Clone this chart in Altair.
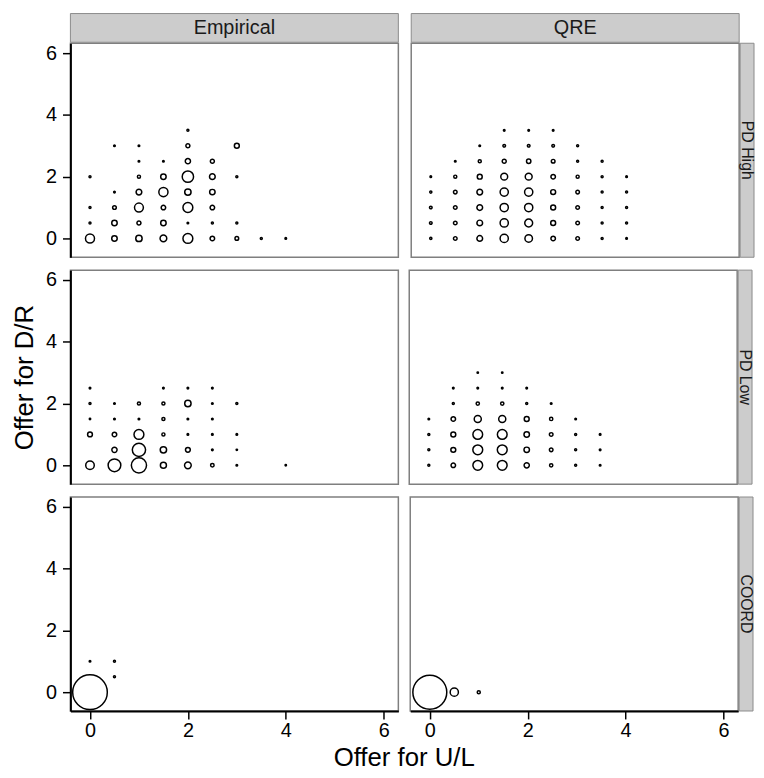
import altair as alt
import pandas as pd

# ---- data: offers (U/L, D/R) and share of choices (%) per panel ----
EMP_HIGH_X = [2, 0.5, 1, 2, 3, 1, 1.5, 2, 2.5, 0, 1, 1.5, 2, 2.5, 3, 0.5, 1, 1.5, 2, 2.5,
              0, 0.5, 1, 1.5, 2, 2.5, 0, 0.5, 1, 1.5, 2, 2.5, 3, 0, 0.5, 1, 1.5, 2, 2.5, 3, 3.5, 4]
EMP_HIGH_Y = [3.5, 3, 3, 3, 3, 2.5, 2.5, 2.5, 2.5, 2, 2, 2, 2, 2, 2, 1.5, 1.5, 1.5, 1.5, 1.5,
              1, 1, 1, 1, 1, 1, 0.5, 0.5, 0.5, 0.5, 0.5, 0.5, 0.5, 0, 0, 0, 0, 0, 0, 0, 0, 0]
EMP_HIGH_V = [0.3, 0.2, 0.2, 1.2, 1.8, 0.2, 0.2, 2.0, 1.2, 0.3, 0.7, 2.2, 9.5, 2.4, 0.3, 0.2, 2.4, 6.2, 3.0, 2.2,
              0.3, 1.0, 5.8, 1.5, 7.2, 1.5, 0.3, 2.2, 1.2, 2.2, 0.2, 0.3, 0.3, 6.0, 2.2, 3.0, 3.3, 7.2, 1.5, 1.0, 0.3, 0.2]

QRE_HIGH_X = [1.5, 2, 2.5, 1, 1.5, 2, 2.5, 3, 0.5, 1, 1.5, 2, 2.5, 3, 3.5,
              0, 0.5, 1, 1.5, 2, 2.5, 3, 3.5, 4, 0, 0.5, 1, 1.5, 2, 2.5, 3, 3.5, 4,
              0, 0.5, 1, 1.5, 2, 2.5, 3, 3.5, 4, 0, 0.5, 1, 1.5, 2, 2.5, 3, 3.5, 4,
              0, 0.5, 1, 1.5, 2, 2.5, 3, 3.5, 4]
QRE_HIGH_Y = [3.5, 3.5, 3.5, 3, 3, 3, 3, 3, 2.5, 2.5, 2.5, 2.5, 2.5, 2.5, 2.5,
              2, 2, 2, 2, 2, 2, 2, 2, 2, 1.5, 1.5, 1.5, 1.5, 1.5, 1.5, 1.5, 1.5, 1.5,
              1, 1, 1, 1, 1, 1, 1, 1, 1, 0.5, 0.5, 0.5, 0.5, 0.5, 0.5, 0.5, 0.5, 0.5,
              0, 0, 0, 0, 0, 0, 0, 0, 0]
QRE_HIGH_V = [0.2, 0.2, 0.2, 0.2, 0.5, 0.5, 0.5, 0.3, 0.2, 0.7, 1.2, 1.4, 1.0, 0.3, 0.3,
              0.2, 0.7, 1.8, 3.5, 3.5, 1.5, 0.7, 0.3, 0.2, 0.35, 0.95, 2.4, 5.0, 5.0, 1.8, 0.95, 0.3, 0.3,
              0.5, 0.95, 2.4, 5.0, 5.0, 1.8, 0.95, 0.3, 0.3, 0.5, 0.95, 2.4, 5.0, 4.6, 1.8, 0.95, 0.3, 0.3,
              0.35, 0.95, 2.4, 5.0, 4.2, 1.5, 0.95, 0.3, 0.2]

EMP_LOW_X = [0, 1.5, 2, 2.5, 0, 0.5, 1, 1.5, 2, 2.5, 3, 0, 0.5, 1, 1.5, 2, 2.5,
             0, 0.5, 1, 1.5, 2, 2.5, 3, 0.5, 1, 1.5, 2, 2.5, 3, 0, 0.5, 1, 1.5, 2, 2.5, 3, 4]
EMP_LOW_Y = [2.5, 2.5, 2.5, 2.5, 2, 2, 2, 2, 2, 2, 2, 1.5, 1.5, 1.5, 1.5, 1.5, 1.5,
             1, 1, 1, 1, 1, 1, 1, 0.5, 0.5, 0.5, 0.5, 0.5, 0.5, 0, 0, 0, 0, 0, 0, 0, 0]
EMP_LOW_V = [0.2, 0.2, 0.2, 0.2, 0.3, 0.2, 0.7, 0.7, 3.0, 0.2, 0.3, 0.15, 0.2, 0.2, 0.7, 0.2, 0.2,
             1.7, 1.5, 7.2, 0.7, 0.2, 0.2, 0.2, 2.0, 13.0, 3.0, 1.7, 0.2, 0.15, 5.4, 11.9, 17.0, 2.7, 3.3, 0.9, 0.2, 0.15]

QRE_LOW_X = [1, 1.5, 0.5, 1, 1.5, 2, 0.5, 1, 1.5, 2, 2.5, 0, 0.5, 1, 1.5, 2, 2.5, 3,
             0, 0.5, 1, 1.5, 2, 2.5, 3, 3.5, 0, 0.5, 1, 1.5, 2, 2.5, 3, 3.5,
             0, 0.5, 1, 1.5, 2, 2.5, 3, 3.5]
QRE_LOW_Y = [3, 3, 2.5, 2.5, 2.5, 2.5, 2, 2, 2, 2, 2, 1.5, 1.5, 1.5, 1.5, 1.5, 1.5, 1.5,
             1, 1, 1, 1, 1, 1, 1, 1, 0.5, 0.5, 0.5, 0.5, 0.5, 0.5, 0.5, 0.5,
             0, 0, 0, 0, 0, 0, 0, 0]
QRE_LOW_V = [0.15, 0.15, 0.2, 0.2, 0.2, 0.2, 0.3, 0.8, 0.8, 0.3, 0.2, 0.2, 1.5, 3.7, 3.7, 1.8, 0.8, 0.2,
             0.3, 1.8, 7.0, 7.0, 2.2, 0.95, 0.3, 0.2, 0.3, 1.8, 7.2, 7.2, 2.2, 0.95, 0.3, 0.2,
             0.3, 1.5, 7.0, 7.0, 2.0, 0.8, 0.3, 0.2]

EMP_COORD_X = [0, 0, 0.5, 0.5]
EMP_COORD_Y = [0, 1, 1, 0.5]
EMP_COORD_V = [88.5, 0.2, 0.3, 0.3]

QRE_COORD_X = [0, 0.5, 1]
QRE_COORD_Y = [0, 0, 0]
QRE_COORD_V = [85.0, 5.0, 0.7]

COL_LABELS = ["Empirical", "QRE"]
ROW_LABELS = ["PD High", "PD Low", "COORD"]
TICKS = [0, 2, 4, 6]

PANELS = [
    [(EMP_HIGH_X, EMP_HIGH_Y, EMP_HIGH_V), (QRE_HIGH_X, QRE_HIGH_Y, QRE_HIGH_V)],
    [(EMP_LOW_X, EMP_LOW_Y, EMP_LOW_V), (QRE_LOW_X, QRE_LOW_Y, QRE_LOW_V)],
    [(EMP_COORD_X, EMP_COORD_Y, EMP_COORD_V), (QRE_COORD_X, QRE_COORD_Y, QRE_COORD_V)],
]

W, H = 331, 216
FONT = "Liberation Sans"
STRIP_FILL = "#cccccc"
STRIP_STROKE = "#8c8c8c"


def panel(r, c):
    xs, ys, vs = PANELS[r][c]
    df = pd.DataFrame({"x": xs, "y": ys, "v": vs})
    if r == 2:
        xaxis = alt.Axis(values=TICKS, title=None, format="d", labelPadding=2)
    else:
        xaxis = None
    if c == 0:
        yaxis = alt.Axis(values=TICKS, format="d", labelPadding=6,
                         title="Offer for D/R" if r == 1 else None, titlePadding=8)
    else:
        yaxis = None
    pts = alt.Chart(df).mark_point(
        shape="circle", filled=False, color="black", strokeWidth=1.5, opacity=1
    ).encode(
        x=alt.X("x:Q", scale=alt.Scale(domain=[-0.4, 6.3], nice=False, zero=False), axis=xaxis),
        y=alt.Y("y:Q", scale=alt.Scale(domain=[-0.61, 6.32], nice=False, zero=False), axis=yaxis),
        size=alt.Size("v:Q", scale=alt.Scale(domain=[0, 100], range=[0, 1380]), legend=None),
    )
    layers = [pts]
    if r == 0:
        lab = pd.DataFrame({"label": [COL_LABELS[c]]})
        layers.append(alt.Chart(lab).mark_rect(fill=STRIP_FILL, stroke=STRIP_STROKE, strokeWidth=1).encode(
            x=alt.value(0), x2=alt.value(W), y=alt.value(-30), y2=alt.value(-1)))
        layers.append(alt.Chart(lab).mark_text(font=FONT, fontSize=20, color="#1a1a1a",
                                               baseline="middle", align="center").encode(
            x=alt.value(W / 2), y=alt.value(-15), text="label:N"))
    if c == 1:
        lab = pd.DataFrame({"label": [ROW_LABELS[r]]})
        layers.append(alt.Chart(lab).mark_rect(fill=STRIP_FILL, stroke=STRIP_STROKE, strokeWidth=1).encode(
            x=alt.value(W + 1), x2=alt.value(W + 15), y=alt.value(0), y2=alt.value(H)))
        layers.append(alt.Chart(lab).mark_text(font=FONT, fontSize=16, color="#1a1a1a", angle=90,
                                               baseline="middle", align="center").encode(
            x=alt.value(W + 8), y=alt.value(H / 2), text="label:N"))
    return alt.layer(*layers).properties(width=W, height=H)


rows = [alt.hconcat(panel(r, 0), panel(r, 1), spacing=9) for r in range(3)]

chart = alt.vconcat(*rows, spacing=9).properties(
    title=alt.TitleParams("Offer for U/L", orient="bottom", anchor="middle", fontSize=26,
                          fontWeight="normal", font=FONT, color="black", dx=21, offset=4),
    padding={"left": 3, "top": 0, "right": 0, "bottom": 0},
).configure_axis(
    labelFont=FONT, labelFontSize=20, labelColor="black",
    titleFont=FONT, titleFontSize=26, titleFontWeight="normal", titleColor="black",
    domainColor="black", domainWidth=2, tickColor="black", tickWidth=1.5, tickSize=8, grid=False,
).configure_view(stroke="#7f7f7f", strokeWidth=1.5)

chart.save("out.html", embed_options={"renderer": "svg", "actions": False})
